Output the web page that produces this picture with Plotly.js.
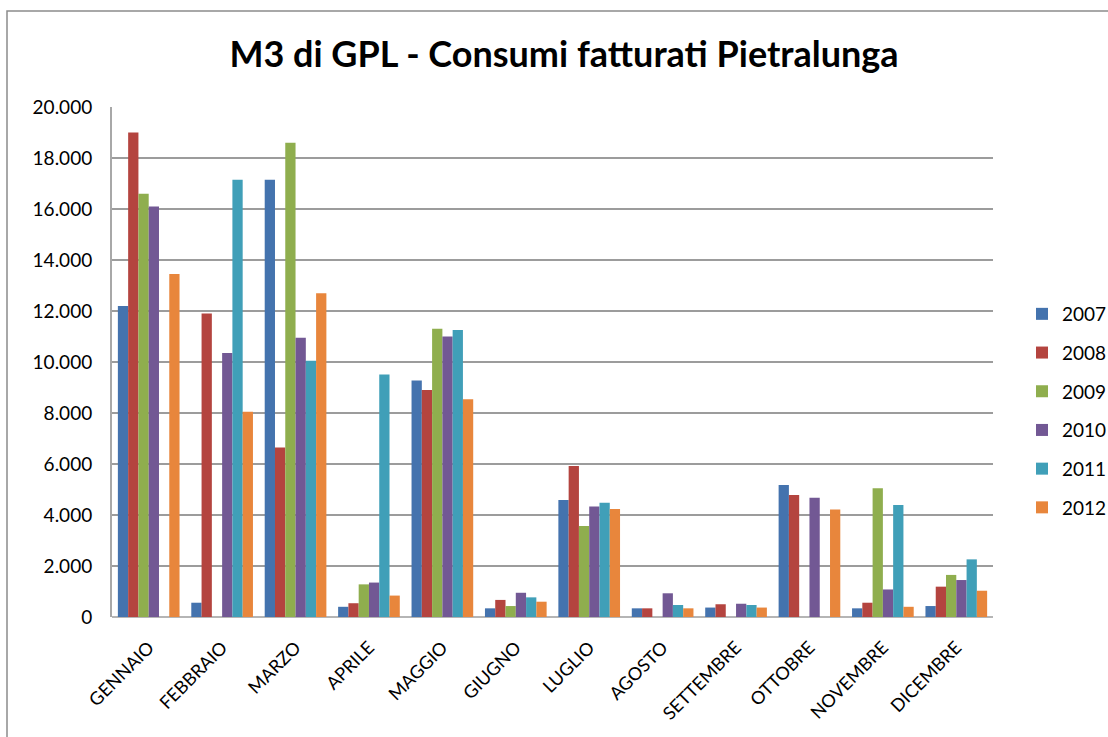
<!DOCTYPE html>
<html>
<head>
<meta charset="utf-8">
<script src="https://cdn.plot.ly/plotly-3.0.1.min.js"></script>
<style>html,body{margin:0;padding:0;background:#fff;}#chart{width:1108px;height:737px;}</style>
</head>
<body>
<div id="chart"></div>
<script>
const months = ["GENNAIO","FEBBRAIO","MARZO","APRILE","MAGGIO","GIUGNO","LUGLIO","AGOSTO","SETTEMBRE","OTTOBRE","NOVEMBRE","DICEMBRE"];
const years = ["2007","2008","2009","2010","2011","2012"];
const v2007 = [12200, 560, 17150, 400, 9270, 340, 4590, 340, 370, 5180, 340, 430];
const v2008 = [19000, 11900, 6650, 540, 8900, 670, 5920, 340, 500, 4780, 560, 1190];
const v2009 = [16600, 0, 18600, 1280, 11300, 430, 3570, 0, 0, 0, 5050, 1650];
const v2010 = [16100, 10350, 10950, 1350, 11000, 950, 4330, 930, 520, 4680, 1080, 1450];
const v2011 = [0, 17150, 10050, 9510, 11250, 770, 4480, 470, 470, 0, 4390, 2260];
const v2012 = [13450, 8050, 12700, 840, 8540, 600, 4240, 340, 370, 4220, 400, 1030];
const series = [v2007, v2008, v2009, v2010, v2011, v2012];
const colors = ["#4473AE", "#B4443F", "#8FAE4E", "#725894", "#409FB8", "#E8863C"];
const yTicks = [0,2000,4000,6000,8000,10000,12000,14000,16000,18000,20000];

const FONT = "Lato, 'Open Sans', sans-serif";

const traces = series.map((vals, i) => ({
  type: "bar",
  name: years[i],
  x: months,
  y: vals,
  legendgroup: "g" + i,
  marker: { color: colors[i], line: { width: 0 } },
  hoverinfo: "x+y+name"
}));

const W = 881, H = 510, L = 112, T = 107;
const px = p => (p - L) / W;
const py = p => (T + H - p) / H;

const layout = {
  width: 1108,
  height: 737,
  separators: ",.",
  paper_bgcolor: "#ffffff",
  plot_bgcolor: "#ffffff",
  margin: { l: L, r: 1108 - L - W, t: T, b: 737 - T - H },
  font: { family: FONT, color: "#000000", size: 16 },
  title: {
    text: "<b>M3 di GPL - Consumi fatturati Pietralunga</b>",
    font: { family: FONT, size: 36, color: "#000000" },
    x: 564 / 1108,
    xref: "container",
    xanchor: "center",
    y: 1 - 54 / 737,
    yref: "container",
    yanchor: "middle"
  },
  barmode: "group",
  bargap: 0.16,
  bargroupgap: 0,
  xaxis: {
    type: "category",
    tickangle: -45,
    tickfont: { family: FONT, size: 18, color: "#000" },
    showgrid: false,
    showline: false,
    ticks: "outside",
    ticklen: 12,
    tickcolor: "rgba(0,0,0,0)",
    zeroline: false
  },
  yaxis: {
    range: [0, 20000],
    tickvals: yTicks,
    tickformat: ",d",
    tickfont: { family: FONT, size: 19, color: "#000" },
    showgrid: true,
    gridcolor: "#9c9c9c",
    gridwidth: 2,
    zeroline: true,
    zerolinecolor: "#b5b5b5",
    zerolinewidth: 2,
    showline: true,
    linecolor: "#a8a8a8",
    linewidth: 2,
    ticks: "outside",
    ticklen: 14,
    tickcolor: "rgba(0,0,0,0)"
  },
  legend: {
    xref: "container",
    yref: "container",
    x: 1022 / 1108,
    xanchor: "left",
    y: 1 - 411 / 737,
    yanchor: "middle",
    font: { family: FONT, size: 19, color: "#000" },
    tracegroupgap: 11,
    itemwidth: 30,
    bgcolor: "rgba(0,0,0,0)"
  },
  showlegend: true,
  shapes: [
    {
      type: "rect", xref: "paper", yref: "paper",
      x0: px(7), x1: px(1180), y0: py(800), y1: py(11),
      line: { color: "#8c8c8c", width: 1.5 },
      fillcolor: "rgba(0,0,0,0)",
      layer: "below"
    }
  ]
};

Plotly.newPlot("chart", traces, layout, { displayModeBar: false, staticPlot: true });
</script>
</body>
</html>
